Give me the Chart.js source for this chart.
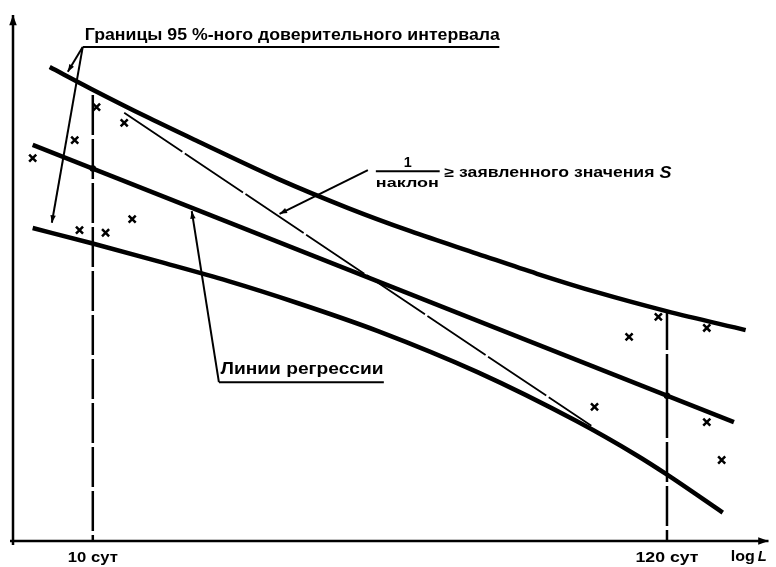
<!DOCTYPE html>
<html>
<head>
<meta charset="utf-8">
<script src="https://cdn.jsdelivr.net/npm/chart.js@4"></script>
<style>
  body { margin: 0; background: #fff; }
  #wrap { width: 776px; height: 567px; position: relative; }
</style>
</head>
<body>
<div id="wrap"><canvas id="chart"></canvas></div>
<script>
// ============= DATA (x = log L, y = log S, schematic units) =============

const xTicks = [1, 2.0792];
const xTickLabels = ['10 сут', '120 сут'];

// regression line
const regression = [[0.887, 7.53], [2.205, 2.26]];

// 95 % confidence bounds
const upperBound = [
  [0.919, 9.01], [0.998, 8.59], [1.106, 8.04], [1.199, 7.59], [1.349, 6.88], [1.480, 6.33],
  [1.597, 5.89], [1.723, 5.46], [1.835, 5.08], [1.947, 4.73], [2.078, 4.37], [2.227, 4.01]
];
const lowerBound = [
  [0.887, 5.95], [0.998, 5.66], [1.125, 5.31], [1.255, 4.94], [1.386, 4.52], [1.536, 3.99],
  [1.723, 3.21], [1.909, 2.28], [2.022, 1.63], [2.078, 1.27], [2.184, 0.54]
];

// line of 1 / slope
const slopeLine = [[1.059, 8.14], [1.937, 2.19]];

// measured points
const measured = [
  [0.887, 7.28], [0.966, 7.62], [1.007, 8.25], [1.059, 7.95], [0.975, 5.91], [1.024, 5.86],
  [1.074, 6.12], [2.008, 3.88], [2.063, 4.26], [2.154, 4.05], [1.943, 2.55], [2.154, 2.26],
  [2.182, 1.54]
];

// verticals at 10 and 120 days
const day10 = [[1, 8.48], [1, 0]];
const day120 = [[2.0792, 4.39], [2.0792, 0]];

// regression values at 10 and 120 days
const regressionNodes = [[1, 7.08], [2.0792, 2.76]];

const toXY = arr => arr.map(p => ({ x: p[0], y: p[1] }));

// ============= DRAW HELPERS =============

const FONT = '"Liberation Sans", Arial, sans-serif';

function fitText(ctx, str, px, py, w, font, align) {
  ctx.save();
  ctx.font = font;
  const m = ctx.measureText(str).width;
  const k = w / m;
  ctx.translate(align === 'center' ? px - w / 2 : px, py);
  ctx.scale(k, 1);
  ctx.textAlign = 'left';
  ctx.textBaseline = 'alphabetic';
  ctx.fillText(str, 0, 0);
  ctx.restore();
}

function arrowLine(ctx, x1, y1, x2, y2, head) {
  ctx.beginPath();
  ctx.moveTo(x1, y1);
  ctx.lineTo(x2, y2);
  ctx.stroke();
  if (head) {
    const a = Math.atan2(y2 - y1, x2 - x1);
    ctx.beginPath();
    ctx.moveTo(x2, y2);
    ctx.lineTo(x2 - head * Math.cos(a - 0.35), y2 - head * Math.sin(a - 0.35));
    ctx.lineTo(x2 - head * Math.cos(a + 0.35), y2 - head * Math.sin(a + 0.35));
    ctx.closePath();
    ctx.fill();
  }
}

// axes, tick labels and annotations
const annotate = {
  id: 'annotate',
  afterDraw(chart) {
    const { ctx, chartArea: area, scales: { x, y } } = chart;
    const P = (a, b) => [x.getPixelForValue(a), y.getPixelForValue(b)];
    ctx.save();
    ctx.strokeStyle = '#000';
    ctx.fillStyle = '#000';
    ctx.lineCap = 'butt';

    // axes
    ctx.lineWidth = 2.5;
    arrowLine(ctx, area.left, area.bottom + 4, area.left, area.top, 11);
    arrowLine(ctx, area.left - 3, area.bottom, area.right, area.bottom, 11);

    // x tick labels
    xTicks.forEach((v, i) => {
      const [px] = P(v, 0);
      fitText(ctx, xTickLabels[i], px, area.bottom + 21, i === 0 ? 50 : 63, 'bold 14px ' + FONT, 'center');
    });
    let [lx] = P(2.199, 0);
    fitText(ctx, 'log', lx, area.bottom + 20, 24, 'bold 14px ' + FONT);
    fitText(ctx, 'L', lx + 27, area.bottom + 20, 9, 'bold italic 14px ' + FONT);

    // confidence bounds label
    ctx.lineWidth = 2;
    let [tx, ty] = P(0.985, 9.52);
    fitText(ctx, 'Границы 95 %-ного доверительного интервала', tx, ty, 415, 'bold 16px ' + FONT);
    let [u1x, uy] = P(0.981, 9.39);
    let [u2x] = P(1.764, 0);
    ctx.beginPath(); ctx.moveTo(u1x, uy); ctx.lineTo(u2x, uy); ctx.stroke();
    let [ax, ay] = P(0.953, 8.92);
    arrowLine(ctx, u1x, uy, ax, ay, 8);
    [ax, ay] = P(0.923, 6.05);
    arrowLine(ctx, u1x, uy, ax, ay, 8);

    // regression label
    [tx, ty] = P(1.240, 3.17);
    fitText(ctx, 'Линии регрессии', tx, ty, 163, 'bold 16px ' + FONT);
    [u1x, uy] = P(1.237, 3.02);
    [u2x] = P(1.547, 0);
    ctx.beginPath(); ctx.moveTo(u1x, uy); ctx.lineTo(u2x, uy); ctx.stroke();
    [ax, ay] = P(1.186, 6.27);
    arrowLine(ctx, u1x, uy, ax, ay, 8);

    // 1 / slope label
    [tx, ty] = P(1.592, 7.11);
    fitText(ctx, '1', tx, ty, 8, 'bold 15px ' + FONT, 'center');
    [u1x, uy] = P(1.532, 7.03);
    [u2x] = P(1.652, 0);
    ctx.beginPath(); ctx.moveTo(u1x, uy); ctx.lineTo(u2x, uy); ctx.stroke();
    [tx, ty] = P(1.532, 6.73);
    fitText(ctx, 'наклон', tx, ty, 63, 'bold 13px ' + FONT);
    [tx, ty] = P(1.661, 6.92);
    fitText(ctx, '≥ заявленного значения', tx, ty, 210, 'bold 14px ' + FONT);
    fitText(ctx, 'S', tx + 215, ty + 1, 12, 'bold italic 17px ' + FONT);
    [u1x, uy] = P(1.517, 7.05);
    [ax, ay] = P(1.351, 6.22);
    arrowLine(ctx, u1x, uy, ax, ay, 8);

    ctx.restore();
  }
};

// ============= CHART =============

const lineSet = (data, width, extra) => Object.assign({
  data: toXY(data),
  showLine: true,
  borderColor: '#000',
  borderWidth: width,
  pointRadius: 0,
  fill: false
}, extra || {});

const ctx = document.getElementById('chart').getContext('2d');

const schemeChart = new Chart(ctx, {
  type: 'scatter',
  data: {
    datasets: [
      lineSet(day10, 2.5, { borderDash: [40, 4] }),
      lineSet(day120, 2.5, { borderDash: [40, 4] }),
      lineSet(upperBound, 4.5, { cubicInterpolationMode: 'monotone' }),
      lineSet(lowerBound, 4.5, { cubicInterpolationMode: 'monotone' }),
      lineSet(regression, 4.5),
      lineSet(slopeLine, 1.8, { borderDash: [70, 3] }),
      {
        data: toXY(measured),
        showLine: false,
        pointStyle: 'crossRot',
        pointRadius: 5,
        borderColor: '#000',
        borderWidth: 2.5
      },
      {
        data: toXY(regressionNodes),
        showLine: false,
        pointStyle: 'circle',
        pointRadius: 2.5,
        backgroundColor: '#fff',
        borderColor: '#000',
        borderWidth: 1.5
      }
    ]
  },
  options: {
    responsive: true,
    maintainAspectRatio: false,
    animation: false,
    events: [],
    layout: { padding: { left: 13, right: 3, top: 15, bottom: 26 } },
    plugins: {
      legend: { display: false },
      tooltip: { enabled: false }
    },
    scales: {
      x: { type: 'linear', min: 0.85, max: 2.27, display: false },
      y: { type: 'linear', min: 0, max: 10, display: false }
    }
  },
  plugins: [annotate]
});
</script>
</body>
</html>
